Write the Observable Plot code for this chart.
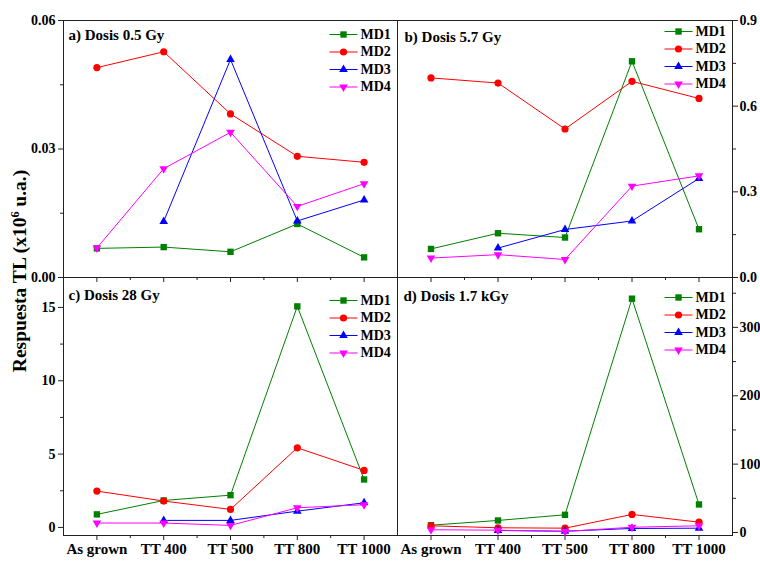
<!DOCTYPE html>
<html><head><meta charset="utf-8">
<script src="https://cdn.jsdelivr.net/npm/d3@7"></script>
<script src="https://cdn.jsdelivr.net/npm/@observablehq/plot@0.6"></script>
<style>
body{margin:0;background:#fff;}
#chart{position:relative;width:760px;height:576px;background:#fff;overflow:hidden;font-family:"Liberation Serif","Times New Roman",serif;}
.panel{position:absolute;}
#ylabel{position:absolute;left:20px;top:271px;transform:translate(-50%,-50%) rotate(-90deg);white-space:nowrap;font-weight:bold;font-size:19.5px;line-height:22px;color:#000;}
#ylabel sup{font-size:12px;line-height:0;}
</style></head><body>
<div id="chart"><div id="ylabel">Respuesta TL (x10<sup>6</sup> u.a.)</div></div>
<script>
const categories = ["As grown", "TT 400", "TT 500", "TT 800", "TT 1000"];
const seriesNames = ["MD1", "MD2", "MD3", "MD4"];
const seriesColors = ["#008000", "#ff0000", "#0000ff", "#ff00ff"];
const titles = ["a) Dosis 0.5 Gy", "b) Dosis 5.7 Gy", "c) Dosis 28 Gy", "d) Dosis 1.7 kGy"];

// rows: MD1, MD2, MD3, MD4 ; columns follow categories
const panelA = [
  [0.0068, 0.0071, 0.0060, 0.0125, 0.0047],
  [0.0490, 0.0527, 0.0382, 0.0283, 0.0269],
  [null, 0.0131, 0.0509, 0.0132, 0.0181],
  [0.0069, 0.0254, 0.0339, 0.0166, 0.0219]
];
const panelB = [
  [0.100, 0.155, 0.140, 0.757, 0.169],
  [0.699, 0.681, 0.520, 0.687, 0.627],
  [null, 0.103, 0.168, 0.198, 0.347],
  [0.068, 0.080, 0.063, 0.320, 0.356]
];
const panelC = [
  [0.89, 1.84, 2.20, 15.07, 3.27],
  [2.48, 1.80, 1.23, 5.43, 3.89],
  [null, 0.48, 0.48, 1.11, 1.68],
  [0.30, 0.30, 0.14, 1.34, 1.55]
];
const panelD = [
  [10.7, 17.6, 25.9, 342, 41],
  [9.8, 6.9, 6.3, 26.4, 15.1],
  [null, 2.9, 1.9, 5.9, 6.3],
  [4.0, 3.4, 1.5, 7.7, 9.8]
];
const yDomains = [[0, 0.06], [0, 0.9], [-0.55, 17.04], [-4.4, 373]];
const yMajorTicks = [[0, 0.03, 0.06], [0, 0.3, 0.6, 0.9], [0, 5, 10, 15], [0, 100, 200, 300]];
const yMinorTicks = [[0.015, 0.045], [0.15, 0.45, 0.75], [2.5, 7.5, 12.5], [50, 150, 250, 350]];
const yFormats = [".2f", ".1f", "d", "d"];

const panels = [panelA, panelB, panelC, panelD];

const layout = [
  {left: 0, top: 0, width: 400, height: 290, ml: 63, mr: 3, mt: 20, mb: 13, anchor: "left", xLabels: false, legDy: 14, tDx: 5, tDy: 15},
  {left: 397, top: 0, width: 363, height: 290, ml: 0, mr: 28, mt: 20, mb: 13, anchor: "right", xLabels: false, legDy: 11, tDx: 7, tDy: 17},
  {left: 0, top: 277, width: 400, height: 299, ml: 63, mr: 3, mt: 0, mb: 41, anchor: "left", xLabels: true, legDy: 23, tDx: 5, tDy: 18},
  {left: 397, top: 277, width: 363, height: 299, ml: 0, mr: 28, mt: 0, mb: 41, anchor: "right", xLabels: true, legDy: 20, tDx: 6, tDy: 19}
];

const triUp = {draw(ctx, size) {
  const s = Math.sqrt(size * 4 / Math.sqrt(3)), h = s * Math.sqrt(3) / 2;
  ctx.moveTo(0, -2 * h / 3); ctx.lineTo(s / 2, h / 3); ctx.lineTo(-s / 2, h / 3); ctx.closePath();
}};
const triDown = {draw(ctx, size) {
  const s = Math.sqrt(size * 4 / Math.sqrt(3)), h = s * Math.sqrt(3) / 2;
  ctx.moveTo(0, 2 * h / 3); ctx.lineTo(s / 2, -h / 3); ctx.lineTo(-s / 2, -h / 3); ctx.closePath();
}};
const lineSym = {draw(ctx) { ctx.moveTo(-14, 0); ctx.lineTo(14, 0); }};
const symbols = ["square", "circle", triUp, triDown];
const radii = [3.6, 3.6, 3.2, 3.2];

const chart = document.getElementById("chart");

panels.forEach((panel, p) => {
  const L = layout[p];
  const marks = [];
  marks.push(Plot.frame({stroke: "#222", strokeWidth: 1}));
  // axes
  marks.push(Plot.axisY(yMajorTicks[p], {anchor: L.anchor, tickSize: 5, tickPadding: L.anchor === "left" ? 3 : 2, tickFormat: d3.format(yFormats[p]), label: null, fontSize: 14, stroke: "#222"}));
  marks.push(Plot.axisY(yMinorTicks[p], {anchor: L.anchor, tickSize: 3, tickFormat: () => "", label: null, stroke: "#222"}));
  marks.push(Plot.axisX([0, 1, 2, 3, 4], {anchor: "bottom", tickSize: 5, tickPadding: 3, tickFormat: L.xLabels ? (i => categories[i]) : (() => ""), label: null, fontSize: 15, stroke: "#222"}));
  marks.push(Plot.axisX([0.5, 1.5, 2.5, 3.5], {anchor: "bottom", tickSize: 3, tickFormat: () => "", label: null, stroke: "#222"}));
  // series
  panel.forEach((vals, s) => {
    const rows = vals.map((v, i) => ({x: i, y: v}));
    marks.push(Plot.line(rows, {x: "x", y: "y", stroke: seriesColors[s], strokeWidth: 1}));
    marks.push(Plot.dot(rows.filter(d => d.y != null), {x: "x", y: "y", fill: seriesColors[s], stroke: "none", symbol: symbols[s], r: radii[s]}));
  });
  // title
  marks.push(Plot.text([titles[p]], {frameAnchor: "top-left", lineAnchor: "middle", dx: L.tDx, dy: L.tDy, textAnchor: "start", text: d => d, fontSize: 15, fontWeight: "bold", fill: "#000"}));
  // legend
  seriesNames.forEach((name, s) => {
    const dy = L.legDy + 17.5 * s;
    marks.push(Plot.dot([name], {frameAnchor: "top-right", dx: -54, dy, symbol: lineSym, stroke: seriesColors[s], fill: "none", strokeWidth: 1}));
    marks.push(Plot.dot([name], {frameAnchor: "top-right", dx: -54, dy, symbol: symbols[s], fill: seriesColors[s], stroke: "none", r: radii[s]}));
    marks.push(Plot.text([name], {frameAnchor: "top-right", lineAnchor: "middle", dx: -37, dy, textAnchor: "start", text: d => d, fontSize: 14, fontWeight: "bold", fill: "#000"}));
  });

  const svg = Plot.plot({
    width: L.width, height: L.height,
    marginLeft: L.ml, marginRight: L.mr, marginTop: L.mt, marginBottom: L.mb,
    x: {domain: [-0.5, 4.5]},
    y: {domain: yDomains[p]},
    style: {background: "transparent", overflow: "visible", fontFamily: "'Liberation Serif','Times New Roman',serif", fontWeight: "bold", color: "#000"},
    marks
  });
  svg.classList.add("panel");
  svg.style.left = L.left + "px";
  svg.style.top = L.top + "px";
  svg.style.maxWidth = "none";
  chart.appendChild(svg);
});
</script>
</body></html>
